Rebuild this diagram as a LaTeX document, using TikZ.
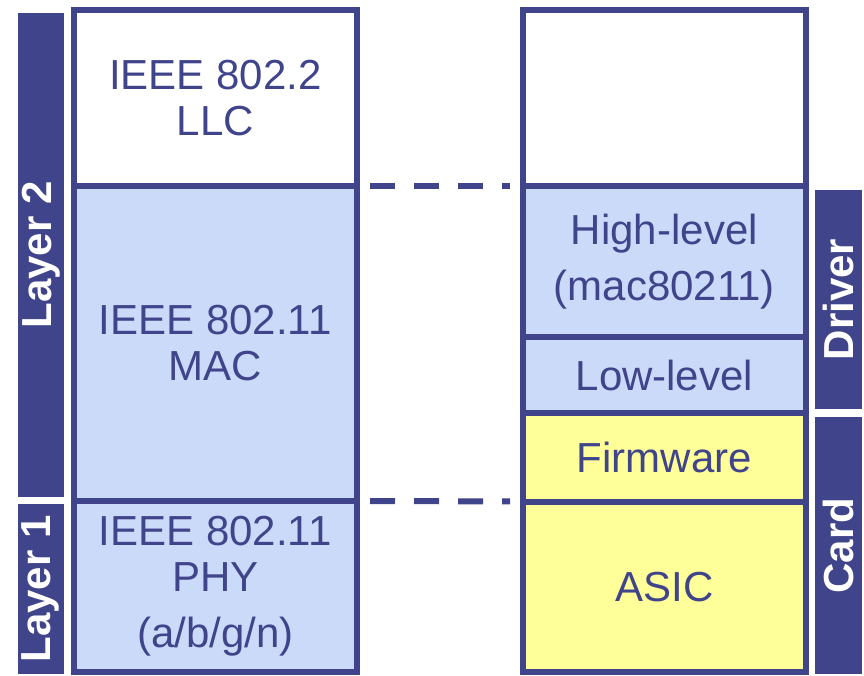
\documentclass[tikz,border=0pt]{standalone}
\usepackage{fontspec}
\setmainfont{Liberation Sans}
\definecolor{stackblue}{RGB}{64,68,138}
\definecolor{paleblue}{RGB}{204,218,250}
\definecolor{paleyellow}{RGB}{255,255,153}
\tikzset{
  stackbox/.style={draw=stackblue,line width=6pt,inner sep=0pt,outer sep=0pt,
    align=center,text=stackblue,font=\fontsize{42}{46}\selectfont},
  sidebar/.style={fill=stackblue,inner sep=0pt,outer sep=0pt,rotate=90,
    text=white,font=\fontsize{42}{46}\selectfont\bfseries},
  linkline/.style={draw=stackblue,line width=6pt,dash pattern=on 25pt off 19pt,
    dash phase=31pt,shorten >=13pt}
}
\begin{document}
\begin{tikzpicture}[x=1pt,y=-1pt]
  \useasboundingbox (0,0) rectangle (864,676);
  % left stack: OSI layers
  \node[stackbox,fill=white,minimum width=283.5pt,minimum height=176.3pt] (llc) at (215.25,97.85) {IEEE 802.2\\LLC};
  \node[stackbox,fill=paleblue,minimum width=283.5pt,minimum height=315pt] (mac) at (215.25,343.5) {IEEE 802.11\\MAC};
  \node[stackbox,fill=paleblue,minimum width=283.5pt,minimum height=171pt] (phy) at (215.25,586.5) {IEEE 802.11\\PHY\\[10pt](a/b/g/n)};
  % right stack: implementation
  \node[stackbox,fill=white,minimum width=282.7pt,minimum height=176.3pt] (upper) at (664.35,97.85) {};
  \node[stackbox,fill=paleblue,minimum width=282.7pt,minimum height=150.7pt] (hilevel) at (664.35,261.35) {High-level\\[10pt](mac80211)};
  \node[stackbox,fill=paleblue,minimum width=282.7pt,minimum height=76.6pt] (lolevel) at (664.35,375) {Low-level};
  \node[stackbox,fill=paleyellow,minimum width=282.7pt,minimum height=88.2pt] (firmware) at (664.35,457.4) {Firmware};
  \node[stackbox,fill=paleyellow,minimum width=282.7pt,minimum height=170.5pt] (asic) at (664.35,586.75) {ASIC};
  % side bars
  \node[sidebar,minimum width=484pt,minimum height=46.5pt] (layer2) at (40.75,255) {Layer 2};
  \node[sidebar,minimum width=170pt,minimum height=46.5pt] (layer1) at (40.75,589) {Layer 1};
  \node[sidebar,minimum width=219pt,minimum height=47pt] (driver) at (838.5,299.5) {Driver};
  \node[sidebar,minimum width=257pt,minimum height=47pt] (card) at (838.5,545.5) {Card};
  % dashed links between the stacks
  \draw[linkline] (mac.north east) -- (hilevel.north west);
  \draw[linkline] (mac.south east) -- (asic.north west);
\end{tikzpicture}
\end{document}
